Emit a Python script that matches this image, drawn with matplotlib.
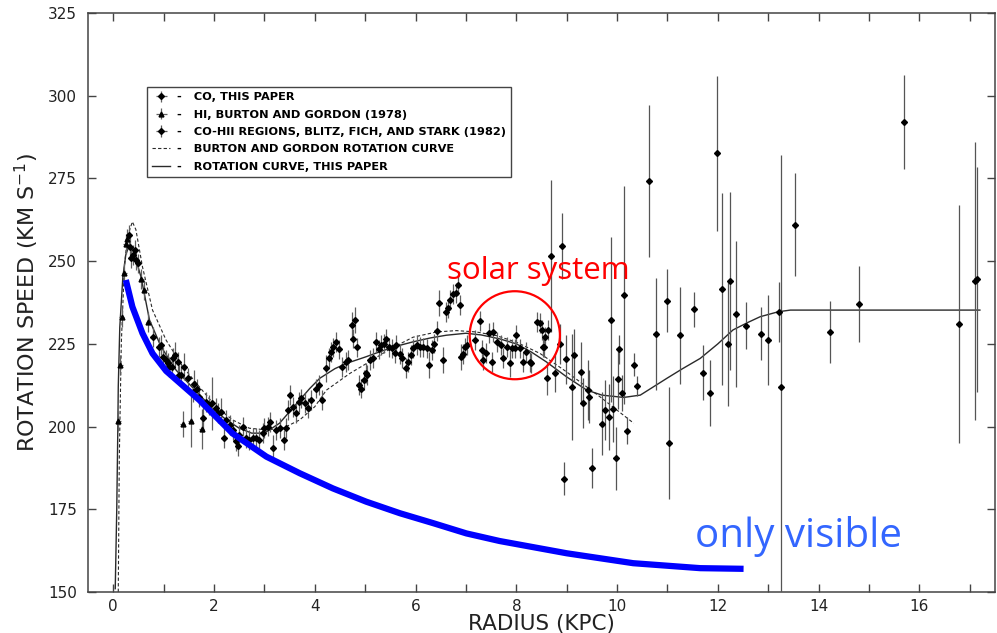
import matplotlib.pyplot as plt
from matplotlib.lines import Line2D
from matplotlib.patches import Ellipse

# CO, this paper (kpc, km/s)
co_r = [0.32, 0.33, 0.36, 0.40, 0.44, 0.46, 0.50, 0.78, 0.91, 0.95,
        0.98, 1.05, 1.08, 1.11, 1.17, 1.18, 1.23, 1.28, 1.31, 1.35,
        1.41, 1.48, 1.58, 1.61, 1.66, 1.71, 1.79, 1.84, 1.91, 1.97,
        2.03, 2.07, 2.14, 2.19, 2.24, 2.31, 2.37, 2.44, 2.47, 2.50,
        2.57, 2.64, 2.70, 2.77, 2.84, 2.90, 2.97, 3.00, 3.07, 3.11,
        3.17, 3.23, 3.30, 3.38, 3.42, 3.47, 3.51, 3.56, 3.63, 3.68,
        3.73, 3.80, 3.86, 3.93, 4.02, 4.08, 4.15, 4.23, 4.28, 4.33,
        4.37, 4.43, 4.49, 4.55, 4.61, 4.66, 4.73, 4.75, 4.79, 4.84,
        4.88, 4.92, 4.97, 5.01, 5.04, 5.09, 5.16, 5.22, 5.27, 5.32,
        5.37, 5.42, 5.47, 5.54, 5.59, 5.62, 5.69, 5.74, 5.81, 5.85,
        5.90, 5.95, 6.02, 6.08, 6.15, 6.22, 6.27, 6.32, 6.36, 6.42,
        6.47, 6.55, 6.60, 6.65, 6.69, 6.75, 6.80, 6.85, 6.88, 6.91,
        6.95, 6.98, 7.02, 7.18, 7.27, 7.32, 7.34, 7.40, 7.46, 7.51,
        7.54, 7.61, 7.69, 7.74, 7.81, 7.87, 7.91, 7.97, 8.00, 8.07,
        8.14, 8.20, 8.27, 8.30, 8.42, 8.47, 8.50, 8.53, 8.55, 8.57,
        8.61, 8.63]
co_v = [257.9, 254.3, 250.8, 251.8, 253.3, 250.3, 249.3, 227.1, 224.1, 224.6,
        221.1, 220.1, 219.1, 218.1, 218.1, 220.6, 221.6, 219.6, 215.6, 215.6,
        218.1, 214.6, 210.5, 213.0, 211.5, 209.0, 202.5, 207.5, 206.5, 207.0,
        205.5, 204.0, 204.5, 196.5, 202.0, 200.5, 199.0, 195.5, 194.0, 197.4,
        200.0, 196.5, 196.0, 196.5, 196.5, 196.0, 198.0, 199.5, 200.0, 201.5,
        193.4, 199.0, 199.5, 196.0, 199.5, 205.0, 209.5, 206.0, 204.0, 207.5,
        208.5, 207.0, 205.5, 208.0, 211.5, 212.5, 208.0, 217.6, 220.6, 222.6,
        223.9, 225.6, 223.3, 218.1, 219.6, 220.1, 230.7, 226.6, 232.2, 223.9,
        212.5, 211.5, 214.0, 216.1, 215.6, 220.1, 220.6, 225.6, 223.3, 224.6,
        225.1, 226.6, 223.9, 223.6, 222.1, 224.6, 221.9, 220.6, 217.6, 219.6,
        221.6, 223.6, 224.6, 224.1, 223.9, 223.6, 218.6, 223.1, 225.1, 228.9,
        237.4, 220.1, 234.7, 235.7, 238.2, 240.0, 240.4, 242.7, 236.7, 221.1,
        222.0, 223.9, 224.6, 226.1, 232.0, 223.1, 220.1, 222.3, 228.2, 219.6,
        228.7, 225.6, 224.6, 220.6, 224.1, 219.1, 223.6, 223.6, 227.6, 223.6,
        219.6, 222.6, 219.6, 219.1, 231.7, 231.2, 229.2, 224.1, 223.9, 227.1,
        214.6, 229.2]
co_err = [3, 3, 3, 3, 3, 3, 3, 3, 3, 3,
          3, 3, 3, 3, 3, 3, 4, 3, 3, 3,
          4, 3, 3, 4, 3, 3, 4, 3, 3, 8,
          3, 3, 4, 3, 3, 3, 3, 3, 3, 3,
          3, 3, 3, 3, 3, 3, 3, 3, 3, 3,
          4, 3, 3, 3, 3, 3, 3, 3, 3, 3,
          3, 3, 3, 3, 3, 3, 3, 4, 3, 3,
          3, 3, 3, 3, 3, 3, 4, 3, 4, 3,
          3, 3, 3, 3, 3, 3, 3, 3, 3, 3,
          3, 3, 3, 3, 3, 3, 3, 3, 3, 3,
          3, 3, 3, 3, 3, 3, 4, 3, 3, 3,
          4, 4, 3, 3, 3, 3, 3, 3, 3, 4,
          3, 3, 3, 3, 3, 3, 3, 3, 3, 3,
          3, 3, 3, 3, 3, 4, 3, 3, 3, 3,
          3, 3, 3, 3, 3, 3, 3, 3, 3, 3,
          5, 3]

# HI, Burton and Gordon (1978)
hi_r = [0.10, 0.14, 0.17, 0.22, 0.25, 0.28, 0.56, 0.62, 0.70, 1.38, 1.54, 1.76]
hi_v = [201.8, 218.6, 233.2, 246.5, 255.3, 256.8, 244.7, 241.2, 231.7, 200.8, 201.8, 199.2]
hi_err = [3, 3, 3, 3, 3, 3, 3, 3, 3, 4, 8, 6]

# CO-HII regions, Blitz, Fich and Stark (1982)
hii_r = [8.68, 8.77, 8.87, 8.90, 8.94, 8.98, 9.11, 9.15, 9.28, 9.32,
         9.43, 9.45, 9.50, 9.71, 9.75, 9.83, 9.88, 9.91, 9.97, 10.01,
         10.04, 10.09, 10.14, 10.19, 10.34, 10.39, 10.64, 10.77, 10.99, 11.03,
         11.24, 11.53, 11.70, 11.84, 11.99, 12.08, 12.21, 12.25, 12.35, 12.56,
         12.86, 13.00, 13.21, 13.25, 13.54, 14.22, 14.80, 15.70, 16.78, 17.10,
         17.14]
hii_v = [251.5, 216.3, 225.0, 254.5, 184.2, 220.3, 212.0, 221.6, 216.5, 207.1,
         211.0, 209.0, 187.4, 200.8, 205.0, 202.8, 232.3, 205.2, 190.4, 214.3,
         223.3, 210.2, 239.7, 198.8, 218.7, 212.2, 274.2, 228.0, 238.0, 195.1,
         227.6, 235.5, 216.3, 210.2, 282.6, 241.6, 225.1, 244.0, 234.1, 230.5,
         228.0, 226.2, 234.7, 212.0, 261.0, 228.5, 237.0, 292.0, 231.0, 244.0,
         244.5]
hii_err = [23, 6, 6, 10, 5, 7.5, 16, 8, 9, 7.5,
           9, 8, 6, 9.5, 9, 10, 25, 10, 9.6, 9,
           4.5, 5.5, 33, 4, 3.5, 3, 23, 17, 9.5, 17,
           14.6, 5.3, 8.3, 10, 23.5, 29, 19, 27, 22, 7,
           8, 13.7, 9, 70, 15.5, 9.3, 11.4, 14.2, 36, 42,
           34]

# Burton and Gordon rotation curve (dashed)
bg_r = [0.10, 0.12, 0.16, 0.22, 0.28, 0.38, 0.45, 0.58, 0.78, 1.05, 1.38, 1.71,
        2.04, 2.37, 2.70, 3.04, 3.37, 3.70, 4.00, 4.23, 4.69, 5.02, 5.50, 5.95,
        6.42, 6.81, 7.20, 7.60, 8.00, 8.47, 9.00, 9.66, 10.33]
bg_v = [150.0, 190.0, 225.0, 248.0, 257.3, 261.9, 259.5, 248.3, 235.2, 226.1, 218.1, 212.0,
        206.0, 202.0, 199.5, 199.0, 199.5, 202.0, 206.0, 211.0, 216.0, 219.0, 223.5, 227.0,
        228.6, 229.0, 228.6, 227.5, 225.5, 222.1, 216.5, 209.0, 201.0]

# rotation curve, this paper (solid)
rc_r = [0.04, 0.07, 0.09, 0.10, 0.13, 0.19, 0.25, 0.32, 0.40, 0.55, 0.72, 0.95,
        1.25, 1.50, 1.75, 2.00, 2.25, 2.50, 2.75, 3.00, 3.30, 3.50, 3.70, 3.90,
        4.10, 4.40, 4.63, 5.00, 5.29, 5.60, 5.95, 6.30, 6.61, 7.00, 7.30, 7.67,
        8.00, 8.30, 8.60, 9.00, 9.40, 9.70, 10.13, 10.46, 10.99, 11.30, 11.65, 12.00,
        12.30, 12.60, 12.84, 13.20, 13.44, 14.50, 17.20]
rc_v = [151.0, 175.0, 198.0, 212.0, 230.0, 245.0, 252.0, 254.8, 253.0, 245.3, 232.2, 224.1,
        217.0, 213.0, 209.0, 205.0, 202.0, 199.5, 198.0, 198.0, 201.0, 204.5, 208.0, 211.5,
        214.6, 217.5, 219.1, 221.0, 222.6, 224.2, 225.6, 226.8, 227.6, 228.2, 227.7, 226.5,
        225.0, 222.5, 219.5, 215.0, 211.0, 209.5, 208.8, 209.5, 214.6, 217.5, 220.6, 225.0,
        229.2, 231.5, 233.2, 234.7, 235.2, 235.2, 235.2]

# "only visible" curve (blue overlay)
vis_r = [0.25, 0.38, 0.58, 0.78, 1.05, 1.71, 2.37, 3.04, 3.70, 4.36, 5.02, 5.69,
         6.35, 7.01, 7.67, 9.00, 10.32, 11.65, 12.51]
vis_v = [244.3, 236.2, 228.2, 222.1, 216.8, 208.0, 197.9, 190.9, 185.9, 181.3, 177.3, 173.8,
         170.8, 167.7, 165.4, 161.7, 158.7, 157.2, 157.0]

fig = plt.figure(figsize=(9.97, 6.33), dpi=100)
ax = fig.add_axes([0.0883, 0.0648, 0.9097, 0.9147])

dark = '#2a2a2a'
eb1 = ax.errorbar(co_r, co_v, yerr=co_err, xerr=0.05, fmt='D', ms=3, color='k',
                  ecolor='#606060', elinewidth=0.9, capsize=0, zorder=3)
eb2 = ax.errorbar(hi_r, hi_v, yerr=hi_err, xerr=0.05, fmt='^', ms=3.5, color='k',
                  ecolor='#606060', elinewidth=0.9, capsize=0, zorder=3)
eb3 = ax.errorbar(hii_r, hii_v, yerr=hii_err, xerr=0.05, fmt='D', ms=3, color='k',
                  ecolor='#555555', elinewidth=0.9, capsize=0, zorder=3)
ax.plot(bg_r, bg_v, color=dark, lw=0.8, linestyle=(0, (3, 2)), zorder=2)
ax.plot(rc_r, rc_v, color=dark, lw=1.0, zorder=2)

ax.plot(vis_r, vis_v, color='#0000ff', lw=4.5, solid_capstyle='butt', zorder=5)
ax.add_patch(Ellipse((7.97, 227.6), 1.79, 26.6, fill=False, edgecolor='#ff0000',
                     lw=1.6, zorder=6))
ax.text(6.62, 244.6, 'solar system', color='#ff0000', fontsize=22.5,
        family='Open Sans', va='baseline', ha='left', zorder=7)
ax.text(11.55, 163.7, 'only visible', color='#3366ff', fontsize=29,
        family='Open Sans', va='baseline', ha='left', zorder=7)

ax.set_xlim(-0.5, 17.5)
ax.set_ylim(150, 325)
ax.set_xticks(range(0, 17, 2))
ax.set_xticks(range(1, 18, 2), minor=True)
ax.set_yticks(range(150, 326, 25))
ax.tick_params(which='both', direction='in', top=True, right=True, length=6,
               width=1, color='#444444', labelcolor='#222222', labelsize=11)
ax.tick_params(axis='y', pad=8)
ax.tick_params(axis='x', pad=5)
for s in ax.spines.values():
    s.set_color('#444444')
    s.set_linewidth(1.1)

ax.set_xlabel('RADIUS (KPC)', fontsize=15.5, color='#222222', labelpad=0)
ax.set_ylabel('ROTATION SPEED (KM S$^{-1}$)', fontsize=16, color='#222222', labelpad=5)

handles = [eb1, eb2, eb3,
           Line2D([], [], color=dark, lw=0.8, linestyle=(0, (3, 2))),
           Line2D([], [], color=dark, lw=1.0)]
labels = ['-   CO, THIS PAPER',
          '-   HI, BURTON AND GORDON (1978)',
          '-   CO-HII REGIONS, BLITZ, FICH, AND STARK (1982)',
          '-   BURTON AND GORDON ROTATION CURVE',
          '-   ROTATION CURVE, THIS PAPER']
leg = ax.legend(handles, labels, loc='upper left', bbox_to_anchor=(0.065, 0.872),
                borderaxespad=0, fancybox=False, framealpha=1, edgecolor='#444444',
                prop={'size': 8.2, 'weight': 'bold'}, handlelength=1.6,
                handletextpad=0.6, labelspacing=0.65, borderpad=0.45)
leg.get_frame().set_linewidth(1.0)

plt.savefig('out.png', dpi=100)
